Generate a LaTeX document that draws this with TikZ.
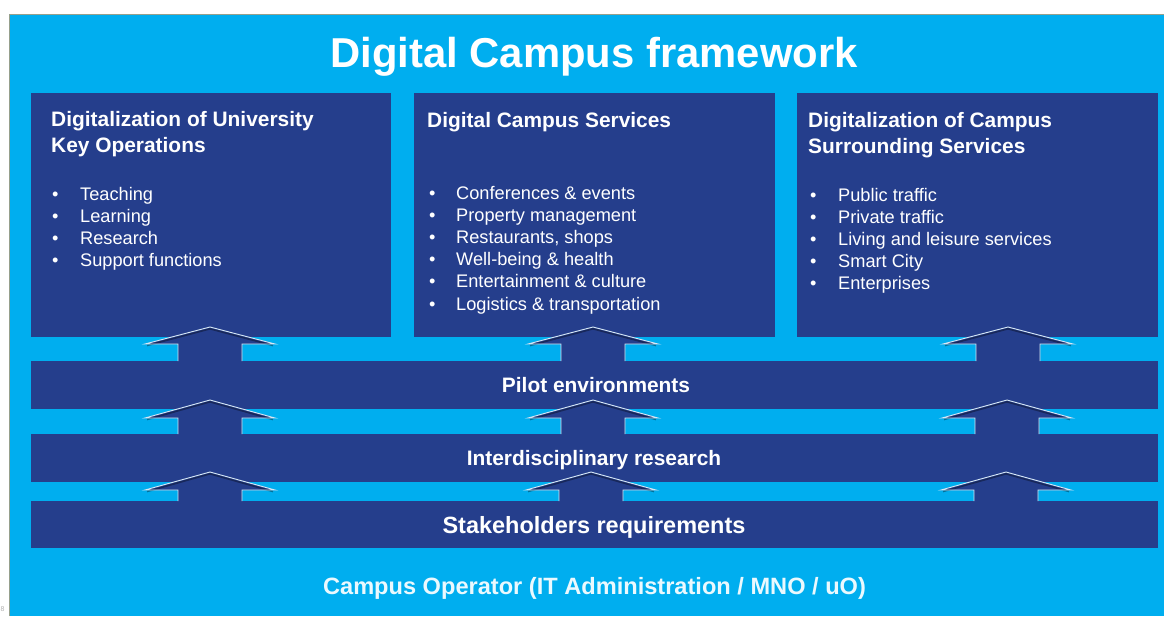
\documentclass[tikz,border=0pt]{standalone}
\usepackage{fontspec}
\setmainfont{Liberation Sans}
\definecolor{lblue}{RGB}{0,174,239}
\definecolor{dblue}{RGB}{37,62,140}
\definecolor{frameline}{RGB}{150,160,140}
\definecolor{edgelight}{RGB}{215,232,245}
\newcommand\uparrowshape[4]{%
  \fill[dblue] (#1-32,#4+1) -- (#1-32,#3) -- (#1-65,#3) -- (#1,#2) -- (#1+65,#3) -- (#1+32,#3) -- (#1+32,#4+1) -- cycle;
  \draw[black,opacity=0.35,line width=1.6,line join=miter] (#1-63,#3+1.5) -- (#1,#2+1.8) -- (#1+63,#3+1.5);
  \draw[edgelight,line width=0.9,line join=miter] (#1-32,#4) -- (#1-32,#3) -- (#1-65,#3) -- (#1,#2) -- (#1+65,#3) -- (#1+32,#3) -- (#1+32,#4);
}
\begin{document}
\begin{tikzpicture}[x=1pt,y=-1pt,
  boxstyle/.style={fill=dblue,draw=none,inner sep=0pt,anchor=north west},
  headtxt/.style={anchor=base west,text=white,font=\fontsize{20.9}{25}\selectfont\bfseries,inner sep=0pt},
  itemtxt/.style={anchor=base west,text=white,font=\fontsize{18.2}{22}\selectfont,inner sep=0pt},
  bandtxt/.style={anchor=base,text=white,font=\fontsize{20.9}{25}\selectfont\bfseries,inner sep=0pt}]
\useasboundingbox (0,0) rectangle (1164,616);
\fill[white] (0,0) rectangle (1164,616);
\fill[lblue] (9,14) rectangle (1164,616);
\draw[frameline,line width=1] (9,616) -- (9,14) -- (1164,14);
\node[anchor=base west,text=gray!60,font=\fontsize{7}{8}\selectfont,inner sep=0pt] (pg) at (0.5,611) {8};

% title
\node[anchor=base,text=white,font=\fontsize{41.8}{48}\selectfont\bfseries,inner sep=0pt] (title) at (594,67) {Digital Campus framework};

% boxes
\node[boxstyle,minimum width=360pt,minimum height=244pt] (b1) at (31,93) {};
\node[boxstyle,minimum width=361pt,minimum height=244pt] (b2) at (414,93) {};
\node[boxstyle,minimum width=361pt,minimum height=244pt] (b3) at (797,93) {};
\node[boxstyle,minimum width=1127pt,minimum height=48pt] (pilot) at (31,361) {};
\node[boxstyle,minimum width=1127pt,minimum height=48pt] (inter) at (31,434) {};
\node[boxstyle,minimum width=1127pt,minimum height=47pt] (stake) at (31,501) {};

% box 1 text
\node[headtxt] (h1a) at (51,126) {Digitalization of University};
\node[headtxt] (h1b) at (51,152) {Key Operations};
\foreach \t [count=\i from 0] in {Teaching,Learning,Research,Support functions}{
  \node[itemtxt] (i1\i) at (80,200+22.1*\i) {\t};
  \node[itemtxt] (d1\i) at (52,200+22.1*\i) {•};
}
% box 2 text
\node[headtxt] (h2a) at (427,127) {Digital Campus Services};
\foreach \t [count=\i from 0] in {Conferences \& events,Property management,Restaurants{,} shops,Well-being \& health,Entertainment \& culture,Logistics \& transportation}{
  \node[itemtxt] (i2\i) at (456,199+22.2*\i) {\t};
  \node[itemtxt] (d2\i) at (429,199+22.2*\i) {•};
}
% box 3 text
\node[headtxt] (h3a) at (808,127) {Digitalization of Campus};
\node[headtxt] (h3b) at (808,153) {Surrounding Services};
\foreach \t [count=\i from 0] in {Public traffic,Private traffic,Living and leisure services,Smart City,Enterprises}{
  \node[itemtxt] (i3\i) at (838,201+22*\i) {\t};
  \node[itemtxt] (d3\i) at (810,201+22*\i) {•};
}

% arrows
\uparrowshape{210}{327}{344}{361}
\uparrowshape{593}{327}{344}{361}
\uparrowshape{1008}{327}{344}{361}
\uparrowshape{210}{400}{418}{434}
\uparrowshape{593}{400}{418}{434}
\uparrowshape{1007}{400}{418}{434}
\uparrowshape{210}{472}{490}{501}
\uparrowshape{591}{472}{490}{501}
\uparrowshape{1006}{472}{490}{501}

% band labels
\node[bandtxt] (lp) at (596,392) {Pilot environments};
\node[bandtxt] (li) at (594,465) {Interdisciplinary research};
\node[bandtxt,font=\fontsize{23.5}{28}\selectfont\bfseries] (ls) at (594,533) {Stakeholders requirements};
\node[bandtxt,font=\fontsize{23.6}{28}\selectfont\bfseries,text=white!92!lblue] (lc) at (594.5,594) {Campus Operator (IT Administration / MNO / uO)};
\end{tikzpicture}
\end{document}
